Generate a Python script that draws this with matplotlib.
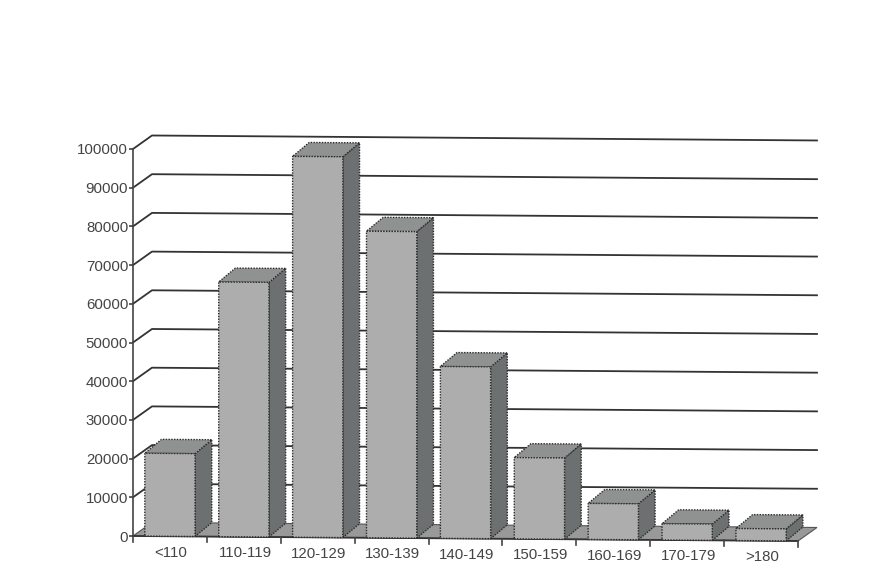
import matplotlib
matplotlib.use('Agg')
import matplotlib.pyplot as plt

plt.rcParams['font.family'] = ['Liberation Sans', 'DejaVu Sans']

categories = ['<110', '110-119', '120-129', '130-139', '140-149', '150-159', '160-169', '170-179', '>180']
values = [21400, 65800, 98400, 79200, 44400, 21000, 9300, 4200, 3100]
y_ticks = [0, 10000, 20000, 30000, 40000, 50000, 60000, 70000, 80000, 90000, 100000]

# the scan is slightly rotated, so everything sinks a little going right
TILT = 143
BAR_W = 0.68
BAR_GAP = 0.16
BAR_DX, BAR_DY = 0.226, 3600
WALL_DX, WALL_DY = 0.257, 3490
LINE = '#333333'


def tilted(x, y, dx=0, dy=0):
    return x + dx, y - TILT * x + dy


def face(corners, color, z):
    xs = [c[0] for c in corners]
    ys = [c[1] for c in corners]
    ax.fill(xs, ys, facecolor=color, edgecolor='#2a2a2a', linewidth=1.0,
            linestyle=(0, (1, 1)), zorder=z, clip_on=False)


fig = plt.figure(figsize=(8.84, 5.78), dpi=100)
ax = fig.add_axes([133 / 884, (578 - 536) / 578, 665 / 884, 387 / 578])
ax.set_xlim(0, 9)
ax.set_ylim(0, 100000)

# y axis
for name in ['top', 'right', 'bottom']:
    ax.spines[name].set_visible(False)
ax.spines['left'].set_color('#444444')
ax.spines['left'].set_linewidth(1.2)
ax.set_yticks(y_ticks)
ax.tick_params(axis='y', length=3, width=1.2, color='#444444', pad=0.5,
               labelsize=10.8, labelcolor='#444444')
ax.set_xticks([])

# floor
n = len(categories)
floor = [tilted(0, 0), tilted(n, 0), tilted(n, 0, WALL_DX, WALL_DY), tilted(0, 0, WALL_DX, WALL_DY)]
ax.fill([p[0] for p in floor], [p[1] for p in floor], facecolor='#999999',
        edgecolor='#555555', linewidth=0.8, zorder=1, clip_on=False)

# gridlines on the side wall and back wall
for v in y_ticks[1:]:
    a = tilted(0, v)
    b = tilted(0, v, WALL_DX, WALL_DY)
    c = tilted(n, v, WALL_DX, WALL_DY)
    ax.plot([a[0], b[0], c[0]], [v, b[1], c[1]], color=LINE, linewidth=1.3, zorder=2, clip_on=False)

# baseline and x ticks
p0, p1 = tilted(0, 0), tilted(n, 0)
ax.plot([p0[0], p1[0]], [p0[1], p1[1]], color=LINE, linewidth=1.3, zorder=3, clip_on=False)
for i in range(n + 1):
    t = tilted(i, 0)
    ax.plot([t[0], t[0]], [t[1], t[1] - 1500], color='#444444', linewidth=1.2, zorder=3, clip_on=False)

# bars
for i, v in enumerate(values):
    x0 = i + BAR_GAP
    x1 = x0 + BAR_W
    bl, br = tilted(x0, 0), tilted(x1, 0)
    tl, tr = tilted(x0, v), tilted(x1, v)
    face([br, tilted(x1, 0, BAR_DX, BAR_DY), tilted(x1, v, BAR_DX, BAR_DY), tr], '#6c7070', 4)
    face([tl, tr, tilted(x1, v, BAR_DX, BAR_DY), tilted(x0, v, BAR_DX, BAR_DY)], '#909292', 4)
    face([bl, br, tr, tl], '#adadad', 5)

# category labels
for i, name in enumerate(categories):
    lx, ly = tilted(i + 0.515, -4200)
    ax.text(lx, ly, name, ha='center', va='center', fontsize=10.8, color='#444444', clip_on=False)

fig.savefig('out.png', dpi=100, facecolor='white')
